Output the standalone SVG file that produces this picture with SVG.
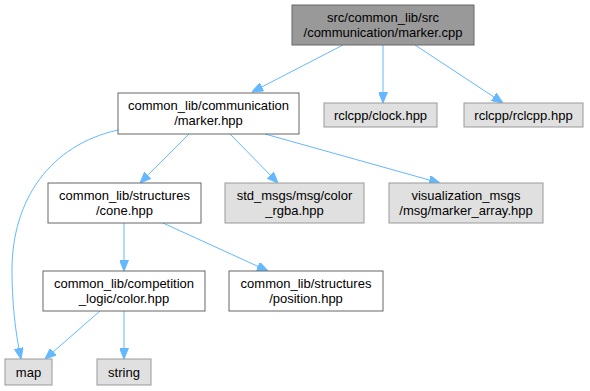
<svg xmlns="http://www.w3.org/2000/svg" width="590" height="391" viewBox="0 0 590 391">
  <style>
    .node rect { stroke-width: 1; }
    .root rect { fill: #999999; stroke: #666666; }
    .local rect { fill: #ffffff; stroke: #666666; }
    .ext rect { fill: #e0e0e0; stroke: #999999; }
    text { font-family: "Liberation Sans", Arial, Helvetica, sans-serif; font-size: 13px; fill: #000000; text-anchor: middle; }
    .edge { fill: none; stroke: #63b8ff; stroke-width: 1; marker-end: url(#arrow); }
  </style>
  <defs>
    <marker id="arrow" viewBox="0 0 11 9" refX="11" refY="4.5" markerWidth="11" markerHeight="9" markerUnits="userSpaceOnUse" orient="auto">
      <path d="M0,0 L11,4.5 L0,9 Z" fill="#63b8ff" stroke="#63b8ff"/>
    </marker>
  </defs>

  <g id="connectors">
    <path class="edge" d="M343,45 L252,92"/>
    <path class="edge" d="M383,45 L383,103"/>
    <path class="edge" d="M415,45 L503,103"/>
    <path class="edge" d="M118,130 C50,145 12,200 12,270 C12,310 17,340 21,359"/>
    <path class="edge" d="M189,134 L140,183"/>
    <path class="edge" d="M230,134 L278,183"/>
    <path class="edge" d="M265,134 L440,183"/>
    <path class="edge" d="M124,223 L124,271"/>
    <path class="edge" d="M163,223 L268,271"/>
    <path class="edge" d="M100,311 L45,359"/>
    <path class="edge" d="M124,311 L124,359"/>
  </g>

  <g id="node-marker-cpp" class="node root">
    <rect x="292" y="5" width="182" height="40"/>
    <text x="383" y="22">src/common_lib/src</text>
    <text x="383" y="37">/communication/marker.cpp</text>
  </g>
  <g id="node-marker-hpp" class="node local">
    <rect x="118" y="93" width="181" height="41"/>
    <text x="208.5" y="110">common_lib/communication</text>
    <text x="208.5" y="125">/marker.hpp</text>
  </g>
  <g id="node-clock" class="node ext">
    <rect x="324" y="103" width="113" height="24"/>
    <text x="380.5" y="119.5">rclcpp/clock.hpp</text>
  </g>
  <g id="node-rclcpp" class="node ext">
    <rect x="464" y="103" width="119" height="24"/>
    <text x="523.5" y="119.5">rclcpp/rclcpp.hpp</text>
  </g>
  <g id="node-cone" class="node local">
    <rect x="48" y="183" width="153" height="40"/>
    <text x="124.5" y="200">common_lib/structures</text>
    <text x="124.5" y="215">/cone.hpp</text>
  </g>
  <g id="node-color-rgba" class="node ext">
    <rect x="225" y="183" width="139" height="40"/>
    <text x="294.5" y="200">std_msgs/msg/color</text>
    <text x="294.5" y="215">_rgba.hpp</text>
  </g>
  <g id="node-marker-array" class="node ext">
    <rect x="389" y="183" width="154" height="40"/>
    <text x="466" y="200">visualization_msgs</text>
    <text x="466" y="215">/msg/marker_array.hpp</text>
  </g>
  <g id="node-color" class="node local">
    <rect x="43" y="271" width="162" height="40"/>
    <text x="124" y="288">common_lib/competition</text>
    <text x="124" y="303">_logic/color.hpp</text>
  </g>
  <g id="node-position" class="node local">
    <rect x="229" y="271" width="154" height="40"/>
    <text x="306" y="288">common_lib/structures</text>
    <text x="306" y="303">/position.hpp</text>
  </g>
  <g id="node-map" class="node ext">
    <rect x="5" y="359" width="47" height="26"/>
    <text x="28.5" y="376.5">map</text>
  </g>
  <g id="node-string" class="node ext">
    <rect x="97" y="359" width="54" height="26"/>
    <text x="124" y="376.5">string</text>
  </g>
</svg>
